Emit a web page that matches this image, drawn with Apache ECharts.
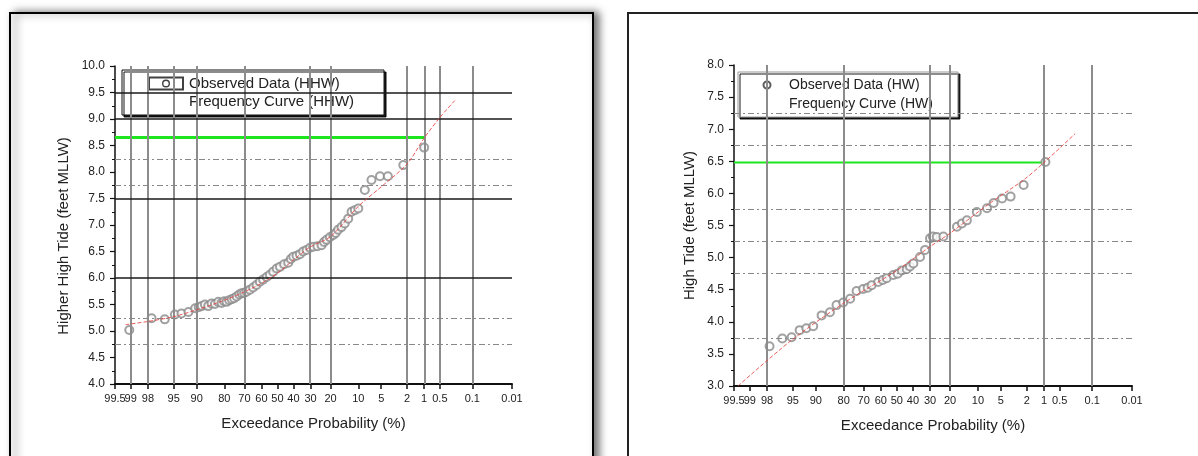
<!DOCTYPE html>
<html><head><meta charset="utf-8">
<script src="https://cdn.jsdelivr.net/npm/echarts@6/dist/echarts.min.js"></script>
<style>html,body{margin:0;padding:0;background:#fff}#c{width:1198px;height:456px}</style>
</head><body><div id="c"></div>
<script>
// ---- tick labels (exceedance probability, %) ----
const tickProbs = [99.5, 99, 98, 95, 90, 80, 70, 60, 50, 40, 30, 20, 10, 5, 2, 1, 0.5, 0.1, 0.01];
const tickLabels = ['99.5','99','98','95','90','80','70','60','50','40','30','20','10','5','2','1','0.5','0.1','0.01'];
// label drawn on a second (overlapping) axis so it can overlap its neighbour like the original
const crowdedTickProb = 99;

// ---- left panel: Higher High Water ----
const hhwObsProb = [99.06,97.7,96.3,94.8,93.6,92.1,90.4,89.4,88.5,87.5,86.4,85.2,83.9,82.6,81.2,80.1,79,77.8,76.6,75.4,74.1,72.8,71.5,70.2,68.8,66.9,65,63,61,59,56.8,54.8,52.7,50.5,48.4,45.8,43.2,41.6,40.1,38.1,36.1,34.2,32.2,30.3,28.5,26.3,24.2,23,21.8,20.3,18.8,17.8,16.8,15.5,14.3,13.1,12,11,10,8.3,6.8,5.2,4.0,2.3,1.0];
const hhwObsVal = [5.02,5.24,5.22,5.31,5.33,5.36,5.43,5.45,5.47,5.5,5.47,5.52,5.51,5.55,5.53,5.56,5.55,5.58,5.6,5.62,5.65,5.69,5.71,5.72,5.74,5.78,5.82,5.87,5.93,5.97,6.02,6.06,6.12,6.18,6.21,6.26,6.29,6.36,6.40,6.42,6.45,6.5,6.53,6.57,6.59,6.6,6.62,6.68,6.72,6.77,6.81,6.85,6.91,6.96,7.03,7.12,7.25,7.28,7.31,7.66,7.85,7.92,7.92,8.13,8.46];
const hhwCurveProb = [99.2, 98, 95, 90, 80, 70, 60, 50, 40, 30, 20, 10, 5, 2, 1, 0.5, 0.24];
const hhwCurveVal = [5.12, 5.18, 5.27, 5.40, 5.58, 5.74, 5.90, 6.09, 6.34, 6.59, 6.78, 7.35, 7.72, 8.15, 8.64, 9.03, 9.36];
const hhwDesignLevel = 8.65;
const hhwDesignProb = 1;
const hhwVGridProbs = [99, 98, 95, 90, 70, 30, 20, 2, 1, 0.5, 0.1];
const hhwSolidLevels = [6.0, 7.5, 9.0, 9.5];
const hhwDashLevels = [4.75, 5.25, 7.75, 8.25];

// ---- right panel: High Water ----
const hwObsProb = [97.8,96.5,95.2,93.8,92.4,90.7,88.3,85.5,83,80.2,77,73.8,70.3,67.8,65.5,61.6,58.8,56.4,52.2,49.5,46.9,43.8,41.8,39.7,35.7,32.8,30,28.5,26.4,23.1,17.1,15.2,13.4,10.3,7.7,6.3,4.8,3.6,2.25,0.94];
const hwObsVal = [3.62,3.74,3.76,3.87,3.9,3.93,4.10,4.15,4.26,4.30,4.36,4.48,4.51,4.53,4.57,4.62,4.65,4.68,4.73,4.75,4.80,4.82,4.86,4.91,5.01,5.12,5.30,5.33,5.32,5.33,5.48,5.53,5.58,5.71,5.77,5.85,5.92,5.95,6.13,6.49];
const hwCurveProb = [99.4, 95.5, 80, 50, 30, 20, 7, 2.25, 1, 0.24];
const hwCurveVal = [3.0, 3.69, 4.29, 4.80, 5.17, 5.38, 5.85, 6.21, 6.48, 6.93];
const hwDesignLevel = 6.48;
const hwDesignProb = 1;
const hwVGridProbs = [98, 80, 30, 20, 1, 0.1];
const hwDashLevels = [3.75, 4.75, 5.25, 5.75, 6.75, 7.25];

// ---- normal probability scale transform ----
function invNorm(p){
  const a=[-3.969683028665376e+01,2.209460984245205e+02,-2.759285104469687e+02,1.383577518672690e+02,-3.066479806614716e+01,2.506628277459239e+00];
  const b=[-5.447609879822406e+01,1.615858368580409e+02,-1.556989798598866e+02,6.680131188771972e+01,-1.328068155288572e+01];
  const c=[-7.784894002430293e-03,-3.223964580411365e-01,-2.400758277161838e+00,-2.549732539343734e+00,4.374664141464968e+00,2.938163982698783e+00];
  const d=[7.784695709041462e-03,3.224671290700398e-01,2.445134137142996e+00,3.754408661907416e+00];
  const pl=0.02425, ph=1-pl; let q,r;
  if(p<pl){q=Math.sqrt(-2*Math.log(p));return (((((c[0]*q+c[1])*q+c[2])*q+c[3])*q+c[4])*q+c[5])/((((d[0]*q+d[1])*q+d[2])*q+d[3])*q+1);}
  if(p<=ph){q=p-0.5;r=q*q;return (((((a[0]*r+a[1])*r+a[2])*r+a[3])*r+a[4])*r+a[5])*q/(((((b[0]*r+b[1])*r+b[2])*r+b[3])*r+b[4])*r+1);}
  q=Math.sqrt(-2*Math.log(1-p));return -(((((c[0]*q+c[1])*q+c[2])*q+c[3])*q+c[4])*q+c[5])/((((d[0]*q+d[1])*q+d[2])*q+d[3])*q+1);
}
const zOf = p => invNorm(1 - p / 100);
const tickZ = tickProbs.map(zOf);
const mainLabelZ = tickProbs.filter(p => p !== crowdedTickProb).map(zOf);
const auxLabelZ = [zOf(crowdedTickProb)];
function labelFor(v){
  let best = 0, bd = Infinity;
  tickZ.forEach((z, i) => { const dd = Math.abs(z - v); if (dd < bd) { bd = dd; best = i; } });
  return tickLabels[best];
}
const pairs = (ps, vs) => ps.map((p, i) => [zOf(p), vs[i]]);

const FONT = "'Liberation Sans', Arial, sans-serif";
const TXT = '#222';

function makeX(gi){
  return {
    type:'value', gridIndex:gi, min:zOf(99.5), max:zOf(0.01), position:'bottom',
    axisLine:{show:true,onZero:false,lineStyle:{color:'#111',width:2}},
    axisTick:{show:true,customValues:tickZ,length:5,lineStyle:{color:'#111',width:1.5}},
    axisLabel:{customValues:mainLabelZ,formatter:labelFor,fontSize:11,color:TXT,margin:9,fontFamily:FONT,
               hideOverlap:false,showMinLabel:true,showMaxLabel:true},
    splitLine:{show:false},
    name:'Exceedance Probability (%)', nameLocation:'middle', nameGap:32,
    nameTextStyle:{fontSize:15,color:TXT,fontFamily:FONT}
  };
}
function makeAuxX(gi){
  return {
    type:'value', gridIndex:gi, min:zOf(99.5), max:zOf(0.01), position:'bottom', offset:0,
    axisLine:{show:false,onZero:false}, axisTick:{show:false},
    axisLabel:{customValues:auxLabelZ,formatter:labelFor,fontSize:11,color:TXT,margin:9,fontFamily:FONT,
               hideOverlap:false},
    splitLine:{show:false}
  };
}
function makeY(gi, min, max, name, gap, pad){
  return {
    type:'value', gridIndex:gi, min, max, interval:0.5,
    axisLine:{show:true,onZero:false,lineStyle:{color:'#111',width:1.5}},
    axisTick:{show:true,length:5,lineStyle:{color:'#111',width:1.2}},
    minorTick:{show:true,splitNumber:2,length:3,lineStyle:{color:'#111',width:1}},
    axisLabel:{formatter:v=>v.toFixed(1),fontSize:12,color:TXT,margin:10,fontFamily:FONT},
    splitLine:{show:false},
    name, nameLocation:'middle', nameGap:gap,
    nameTextStyle:{fontSize:15,color:TXT,fontFamily:FONT,padding:pad}
  };
}
function gridLines(vProbs, solid, dashed){
  const d = [];
  vProbs.forEach(p => d.push({xAxis:zOf(p), lineStyle:{color:'#8c8c8c',width:2,type:'solid'}}));
  solid.forEach(v => d.push({yAxis:v, lineStyle:{color:'#1a1a1a',width:1.5,type:'solid'}}));
  dashed.forEach(v => d.push({yAxis:v, lineStyle:{color:'#888',width:1,type:[6,3,2,3]}}));
  return d;
}
function panelSeries(gi, tag, obsP, obsV, curP, curV, lvl, lvlP, vProbs, solid, dashed, greenW){
  return [
    {type:'line', name:'grid'+gi, xAxisIndex:gi, yAxisIndex:gi, data:[], z:1, silent:true,
     markLine:{silent:true, symbol:['none','none'], animation:false, label:{show:false},
       emphasis:{disabled:true}, data:gridLines(vProbs, solid, dashed)}},
    {type:'line', name:'level'+gi, xAxisIndex:gi, yAxisIndex:gi, z:3, symbol:'none',
     data:[[zOf(99.5), lvl],[zOf(lvlP), lvl]],
     lineStyle:{color:'#1ee61e',width:greenW}},
    {type:'scatter', name:'Observed Data ('+tag+')', xAxisIndex:gi, yAxisIndex:gi, z:4,
     data:pairs(obsP, obsV), symbol:'emptyCircle', symbolSize:8,
     itemStyle:{color:'#8a8a8a',borderWidth:1}},
    {type:'line', name:'Frequency Curve ('+tag+')', xAxisIndex:gi, yAxisIndex:gi, z:5,
     data:pairs(curP, curV), smooth:0.3, symbol:'none',
     lineStyle:{color:'#e8403c',width:1,type:[4,2],opacity:0.85}}
  ];
}

const boxIcon = 'path://M0,0H36V14H0Z M2,2V12H34V2Z M14,7A4,4 0 1,0 22,7A4,4 0 1,0 14,7Z M15.4,7A2.6,2.6 0 1,1 20.6,7A2.6,2.6 0 1,1 15.4,7Z';

const option = {
  animation:false,
  backgroundColor:'#fff',
  textStyle:{fontFamily:FONT},
  graphic:[
    {type:'rect', z:-10, shape:{x:10,y:13,width:583,height:470},
     style:{fill:'#fff',stroke:'#000',lineWidth:2,shadowBlur:8,shadowOffsetX:5,shadowOffsetY:0,shadowColor:'rgba(0,0,0,0.55)'}},
    {type:'rect', z:-10, shape:{x:628,y:13,width:600,height:470},
     style:{fill:'#fff',stroke:'#222',lineWidth:2}}
  ],
  grid:[
    {left:115, top:66, width:397, height:318},
    {left:734, top:65, width:398, height:321}
  ],
  xAxis:[makeX(0), makeX(1), makeAuxX(0), makeAuxX(1)],
  yAxis:[
    makeY(0, 4, 10, 'Higher High Tide (feet MLLW)', 44, [0,22,0,0]),
    makeY(1, 3, 8, 'High Tide (feet MLLW)', 37, [0,0,0,0])
  ],
  legend:[
    {left:122, top:70, orient:'vertical', selectedMode:false,
     padding:[6,30,6,26], itemGap:3, itemWidth:36, itemHeight:14,
     backgroundColor:'#fff', borderColor:'#111', borderWidth:1,
     shadowColor:'rgba(0,0,0,0.9)', shadowOffsetX:2, shadowOffsetY:2, shadowBlur:0,
     textStyle:{fontSize:15,color:TXT,fontFamily:FONT},
     data:[
       {name:'Observed Data (HHW)', icon:boxIcon, itemStyle:{color:'#111',borderWidth:0}},
       {name:'Frequency Curve (HHW)', icon:'rect', itemStyle:{color:'rgba(0,0,0,0)',borderWidth:0}}
     ]},
    {left:738, top:72, orient:'vertical', selectedMode:false,
     padding:[6,25,6,12], itemGap:5, itemWidth:34, itemHeight:7,
     backgroundColor:'#fff', borderColor:'#999', borderWidth:1,
     shadowColor:'rgba(0,0,0,0.9)', shadowOffsetX:2, shadowOffsetY:2, shadowBlur:0,
     textStyle:{fontSize:14,color:TXT,fontFamily:FONT},
     data:[
       {name:'Observed Data (HW)', icon:'emptyCircle', itemStyle:{color:'#333',borderColor:'#333',borderWidth:1}},
       {name:'Frequency Curve (HW)', icon:'rect', itemStyle:{color:'rgba(0,0,0,0)',borderWidth:0}}
     ]}
  ],
  series:[
    ...panelSeries(0,'HHW',hhwObsProb,hhwObsVal,hhwCurveProb,hhwCurveVal,hhwDesignLevel,hhwDesignProb,hhwVGridProbs,hhwSolidLevels,hhwDashLevels,3),
    ...panelSeries(1,'HW',hwObsProb,hwObsVal,hwCurveProb,hwCurveVal,hwDesignLevel,hwDesignProb,hwVGridProbs,[],hwDashLevels,2)
  ]
};
const chart = echarts.init(document.getElementById('c'), null, {renderer:'canvas'});
chart.setOption(option);
</script>
</body></html>
